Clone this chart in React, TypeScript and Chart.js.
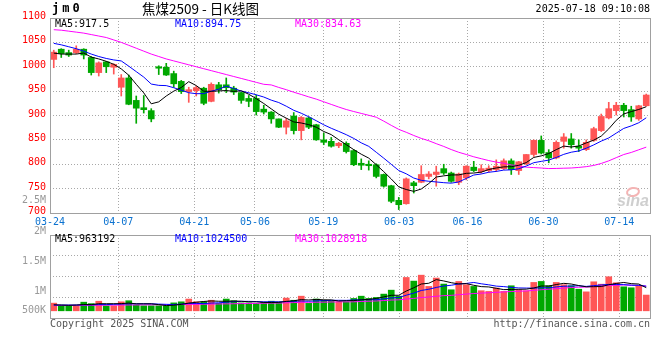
import React, { useEffect, useRef } from 'react';
import { Chart, registerables } from 'chart.js';

Chart.register(...registerables);

// ---------- data ----------
const DATES = [
  '03-24', '03-25', '03-26', '03-27', '03-28',
  '03-31', '04-01', '04-02', '04-03',
  '04-07', '04-08', '04-09', '04-10', '04-11',
  '04-14', '04-15', '04-16', '04-17', '04-18',
  '04-21', '04-22', '04-23', '04-24', '04-25',
  '04-28', '04-29', '04-30',
  '05-06', '05-07', '05-08', '05-09',
  '05-12', '05-13', '05-14', '05-15', '05-16',
  '05-19', '05-20', '05-21', '05-22', '05-23',
  '05-26', '05-27', '05-28', '05-29', '05-30',
  '06-03', '06-04', '06-05', '06-06',
  '06-09', '06-10', '06-11', '06-12', '06-13',
  '06-16', '06-17', '06-18', '06-19', '06-20',
  '06-23', '06-24', '06-25', '06-26', '06-27',
  '06-30', '07-01', '07-02', '07-03', '07-04',
  '07-07', '07-08', '07-09', '07-10', '07-11',
  '07-14', '07-15', '07-16', '07-17', '07-18',
];

const TICK_DATES = ['03-24', '04-07', '04-21', '05-06', '05-19', '06-03', '06-16', '06-30', '07-14'];

const OPEN = [
  1015, 1036, 1029, 1029, 1036, 1019, 988, 1010, 999, 958,
  977, 931, 916, 910, 1000, 999, 986, 970, 949, 951,
  956, 929, 963, 963, 956, 947, 935, 935, 913, 907,
  893, 876, 899, 869, 895, 881, 850, 847, 838, 843,
  828, 802, 800, 799, 779, 756, 726, 719, 762, 763,
  775, 779, 791, 782, 763, 772, 794, 785, 787, 789,
  791, 807, 787, 801, 820, 849, 824, 813, 847, 852,
  837, 830, 849, 869, 895, 910, 921, 912, 893, 920,
];
const HIGH = [
  1034, 1037, 1034, 1043, 1037, 1021, 1010, 1011, 1006, 984,
  983, 940, 941, 914, 1002, 1007, 991, 972, 958, 960,
  958, 967, 968, 977, 960, 948, 941, 942, 921, 908,
  893, 894, 906, 898, 897, 882, 864, 855, 845, 846,
  830, 811, 807, 801, 780, 757, 732, 772, 765, 797,
  785, 796, 800, 784, 782, 797, 806, 799, 797, 809,
  811, 811, 806, 820, 850, 858, 830, 848, 863, 863,
  850, 850, 876, 903, 927, 927, 925, 919, 921, 944,
];
const LOW = [
  998, 1019, 1021, 1027, 1016, 983, 981, 988, 985, 940,
  922, 884, 905, 887, 984, 982, 958, 945, 927, 940,
  922, 928, 946, 947, 943, 925, 918, 901, 903, 884,
  875, 862, 862, 850, 873, 849, 840, 835, 834, 823,
  797, 789, 788, 772, 753, 721, 707, 718, 741, 762,
  770, 755, 779, 763, 758, 768, 785, 782, 784, 785,
  789, 779, 779, 799, 816, 821, 803, 811, 833, 833,
  826, 828, 847, 867, 893, 901, 897, 888, 890, 919,
];
const CLOSE = [
  1030, 1027, 1024, 1036, 1024, 988, 1008, 1000, 1005, 977,
  923, 915, 912, 893, 997, 983, 965, 949, 953, 957,
  925, 964, 953, 957, 948, 931, 929, 908, 907, 893,
  876, 889, 869, 896, 876, 850, 845, 837, 843, 826,
  799, 798, 797, 775, 755, 724, 717, 770, 756, 779,
  780, 784, 782, 765, 780, 796, 787, 791, 792, 796,
  807, 789, 805, 820, 849, 823, 813, 845, 856, 840,
  833, 845, 873, 898, 914, 921, 910, 897, 920, 942,
];
const VOLUME = [
  320000, 210000, 210000, 210000, 360000, 300000, 400000, 210000, 210000, 375000,
  420000, 240000, 210000, 210000, 210000, 210000, 330000, 375000, 490000, 375000,
  375000, 440000, 310000, 490000, 420000, 330000, 330000, 310000, 360000, 400000,
  360000, 530000, 440000, 610000, 310000, 490000, 440000, 420000, 375000, 375000,
  515000, 610000, 515000, 557000, 696000, 861000, 611000, 1390000, 1238000, 1486000,
  1016000, 1366000, 1115000, 877000, 1224000, 1087000, 1016000, 837000, 808000, 948000,
  808000, 1044000, 877000, 837000, 1183000, 1224000, 1044000, 1183000, 1087000, 1044000,
  900000, 790000, 1210000, 1110000, 1419000, 1170000, 1000000, 960000, 1030000, 656000,
];

const PRICE_MA5_HEAD = [1028, 1026, 1026, 1026];
const PRICE_MA10_HEAD = [1048, 1045, 1041, 1037, 1032, 1026, 1021, 1017, 1014];
const PRICE_MA30_HEAD = [
  1076, 1075, 1073, 1071, 1069, 1066, 1063, 1060, 1055, 1050,
  1044, 1038, 1032, 1026, 1021, 1016, 1012, 1008, 1004, 1000,
  996, 992, 988, 984, 980, 976, 972, 968, 964,
];
const VOL_MA5_HEAD = [250000, 240000, 230000, 240000];
const VOL_MA10_HEAD = [240000, 240000, 240000, 240000, 250000, 250000, 260000, 260000, 270000];
const VOL_MA30_HEAD = [
  225000, 225000, 225000, 228000, 230000, 230000, 232000, 235000, 238000, 240000,
  243000, 245000, 248000, 250000, 253000, 255000, 258000, 260000, 265000, 270000,
  275000, 280000, 285000, 290000, 295000, 300000, 305000, 310000, 315000,
];

const PRICE_MIN = 700;
const PRICE_MAX = 1100;
const PRICE_STEP = 50;
const VOL_MIN = -300000;
const VOL_MAX = 3160000;

const SYMBOL = 'jm0';
const TITLE = '焦煤2509 - 日K线图';
const TIMESTAMP = '2025-07-18 09:10:08';
const PRICE_LEGEND = ['MA5:917.5', 'MA10:894.75', 'MA30:834.63'];
const VOL_LEGEND = ['MA5:963192', 'MA10:1024500', 'MA30:1028918'];
const VOL_AXIS_LABELS = ['2.5M', '2M', '1.5M', '1M', '500K'];
const COPYRIGHT = 'Copyright 2025 SINA.COM';
const SITE = 'http://finance.sina.com.cn';

// ---------- style ----------
const MONO = '"DejaVu Sans Mono", monospace';
const UP = '#ff5656';
const DOWN = '#00a800';
const MA_COLORS = ['#000000', '#0000ff', '#ff00ff'];
const GRID_COLOR = '#a8a8a8';
const FRAME_COLOR = '#a0a0a0';
const GRID_STEP = 1.012;

function movingAverage(values: number[], n: number, head: number[]): number[] {
  return values.map((_, i) => {
    if (i < n - 1) return head[i];
    let s = 0;
    for (let k = i - n + 1; k <= i; k++) s += values[k];
    return s / n;
  });
}

function drawFrame(chart: any) {
  const { ctx, chartArea: a } = chart;
  ctx.save();
  ctx.strokeStyle = FRAME_COLOR;
  ctx.lineWidth = 1;
  ctx.setLineDash([]);
  ctx.strokeRect(Math.round(a.left) + 0.5, Math.round(a.top) + 0.5, Math.round(a.right - a.left), Math.round(a.bottom - a.top));
  ctx.restore();
}

const priceDecor = {
  id: 'priceDecor',
  beforeDatasetsDraw(chart: any) {
    const { ctx, chartArea: a } = chart;
    ctx.save();
    ctx.strokeStyle = '#f4b4b4';
    ctx.lineWidth = 2;
    ctx.beginPath();
    ctx.ellipse(a.right - 17, a.bottom - 21, 6, 4, -0.2, 0, Math.PI * 2);
    ctx.stroke();
    ctx.fillStyle = '#cfcfcf';
    ctx.font = 'italic bold 16px "Liberation Sans", sans-serif';
    ctx.textAlign = 'right';
    ctx.textBaseline = 'alphabetic';
    ctx.fillText('sina', a.right - 1, a.bottom - 7);
    ctx.restore();
  },
  afterDraw(chart: any) {
    const { ctx, chartArea: a } = chart;
    drawFrame(chart);
    ctx.save();
    ctx.textBaseline = 'middle';
    ctx.fillStyle = '#000';
    ctx.font = `bold 12px ${MONO}`;
    (ctx as any).letterSpacing = '3px';
    ctx.textAlign = 'left';
    ctx.fillText(SYMBOL, a.left + 2, 9);
    (ctx as any).letterSpacing = '0px';
    ctx.font = '13.5px "Noto Sans CJK SC", sans-serif';
    ctx.fillText(TITLE, 142, 9);
    ctx.font = `10px ${MONO}`;
    ctx.textAlign = 'right';
    ctx.fillText(TIMESTAMP, a.right, 9);
    ctx.textAlign = 'left';
    PRICE_LEGEND.forEach((t, k) => {
      ctx.fillStyle = MA_COLORS[k];
      ctx.fillText(t, a.left + 5 + 120 * k, a.top + 6.5);
    });
    ctx.restore();
  },
};

const volDecor = {
  id: 'volDecor',
  afterDraw(chart: any) {
    const { ctx, chartArea: a } = chart;
    drawFrame(chart);
    ctx.save();
    ctx.textBaseline = 'middle';
    ctx.font = `10px ${MONO}`;
    ctx.textAlign = 'left';
    VOL_LEGEND.forEach((t, k) => {
      ctx.fillStyle = MA_COLORS[k];
      ctx.fillText(t, a.left + 5 + 120 * k, a.top + 4);
    });
    ctx.fillStyle = '#999';
    ctx.textAlign = 'right';
    const ys = [a.top - 35, a.top - 4, a.top + 26, a.top + 56, a.bottom - 8];
    VOL_AXIS_LABELS.forEach((t, k) => ctx.fillText(t, a.left - 4, ys[k]));
    ctx.fillStyle = '#555';
    ctx.textAlign = 'left';
    ctx.fillText(COPYRIGHT, a.left, a.bottom + 6);
    ctx.textAlign = 'right';
    ctx.fillText(SITE, a.right, a.bottom + 6);
    ctx.restore();
  },
};

export default function App() {
  const priceRef = useRef<HTMLCanvasElement | null>(null);
  const volRef = useRef<HTMLCanvasElement | null>(null);

  useEffect(() => {
    const idx = DATES.map((_, i) => i);
    const colors = idx.map((i) => (CLOSE[i] >= OPEN[i] ? UP : DOWN));
    const gridValues = TICK_DATES.map((d) => DATES.indexOf(d) * GRID_STEP - 0.5);
    const pMA = [
      movingAverage(CLOSE, 5, PRICE_MA5_HEAD),
      movingAverage(CLOSE, 10, PRICE_MA10_HEAD),
      movingAverage(CLOSE, 30, PRICE_MA30_HEAD),
    ];
    const vMA = [
      movingAverage(VOLUME, 5, VOL_MA5_HEAD),
      movingAverage(VOLUME, 10, VOL_MA10_HEAD),
      movingAverage(VOLUME, 30, VOL_MA30_HEAD),
    ];

    const xAxis = (showLabels: boolean, height: number): any => ({
      type: 'linear',
      min: -0.5,
      max: DATES.length - 0.5,
      bounds: 'data',
      offset: false,
      grid: { color: GRID_COLOR, lineWidth: 1, drawTicks: false, offset: false },
      border: { display: false, dash: [1, 2] },
      afterBuildTicks: (s: any) => {
        s.ticks = gridValues.map((v) => ({ value: v }));
      },
      afterFit: (s: any) => {
        s.height = height;
      },
      ticks: {
        display: showLabels,
        autoSkip: false,
        maxRotation: 0,
        minRotation: 0,
        padding: 3,
        color: '#0b72d0',
        font: { family: MONO, size: 10 },
        callback: (_v: any, i: number) => TICK_DATES[i],
      },
    });

    const lineDs = (vals: number[], color: string): any => ({
      type: 'line',
      data: idx.map((i) => ({ x: i, y: vals[i] })),
      borderColor: color,
      borderWidth: 1,
      pointRadius: 0,
      fill: false,
      tension: 0,
      order: 0,
    });

    const common: any = {
      responsive: false,
      animation: false,
      events: [],
      plugins: { legend: { display: false }, tooltip: { enabled: false } },
    };

    const priceChart = new Chart(priceRef.current as HTMLCanvasElement, {
      type: 'bar',
      data: {
        datasets: [
          {
            type: 'bar',
            data: idx.map((i) => ({ x: i, y: [LOW[i], HIGH[i]] })),
            backgroundColor: colors,
            barThickness: 1,
            grouped: false,
            order: 2,
          } as any,
          {
            type: 'bar',
            data: idx.map((i) => ({ x: i, y: [OPEN[i], CLOSE[i]] })),
            backgroundColor: colors,
            barThickness: 6,
            minBarLength: 1,
            grouped: false,
            order: 1,
          } as any,
          lineDs(pMA[0], MA_COLORS[0]),
          lineDs(pMA[1], MA_COLORS[1]),
          lineDs(pMA[2], MA_COLORS[2]),
        ],
      },
      options: {
        ...common,
        layout: { padding: { top: 18, right: 10, left: 0, bottom: 0 } },
        scales: {
          x: xAxis(true, 147),
          y: {
            type: 'linear',
            min: PRICE_MIN,
            max: PRICE_MAX,
            grid: { color: GRID_COLOR, lineWidth: 1, drawTicks: false },
            border: { display: false, dash: [1, 2] },
            afterFit: (s: any) => {
              s.width = 50;
            },
            ticks: {
              stepSize: PRICE_STEP,
              color: '#ff0000',
              padding: 4,
              labelOffset: -1.5,
              font: { family: MONO, size: 10 },
              callback: (v: any) => String(v),
            },
          },
        },
      },
      plugins: [priceDecor],
    } as any);

    const volChart = new Chart(volRef.current as HTMLCanvasElement, {
      type: 'bar',
      data: {
        datasets: [
          {
            type: 'bar',
            data: idx.map((i) => ({ x: i, y: VOLUME[i] })),
            backgroundColor: colors,
            barThickness: 6,
            grouped: false,
            order: 1,
          } as any,
          lineDs(vMA[0], MA_COLORS[0]),
          lineDs(vMA[1], MA_COLORS[1]),
          lineDs(vMA[2], MA_COLORS[2]),
        ],
      },
      options: {
        ...common,
        layout: { padding: { top: 235, right: 10, left: 0, bottom: 0 } },
        scales: {
          x: xAxis(false, 42),
          y: {
            type: 'linear',
            min: VOL_MIN,
            max: VOL_MAX,
            bounds: 'data',
            grid: { color: GRID_COLOR, lineWidth: 1, drawTicks: false },
            border: { display: false, dash: [1, 2] },
            afterBuildTicks: (s: any) => {
              s.ticks = [0, 1, 2, 3, 4].map((k) => ({ value: VOL_MIN + (k * (VOL_MAX - VOL_MIN)) / 4 }));
            },
            afterFit: (s: any) => {
              s.width = 50;
            },
            ticks: { display: false },
          },
        },
      },
      plugins: [volDecor],
    } as any);

    return () => {
      priceChart.destroy();
      volChart.destroy();
    };
  }, []);

  return (
    <div style={{ position: 'absolute', left: 0, top: 0, width: 660, height: 360, background: '#fff' }}>
      <canvas ref={volRef} width={660} height={360} style={{ position: 'absolute', left: 0, top: 0 }} />
      <canvas ref={priceRef} width={660} height={360} style={{ position: 'absolute', left: 0, top: 0 }} />
    </div>
  );
}
